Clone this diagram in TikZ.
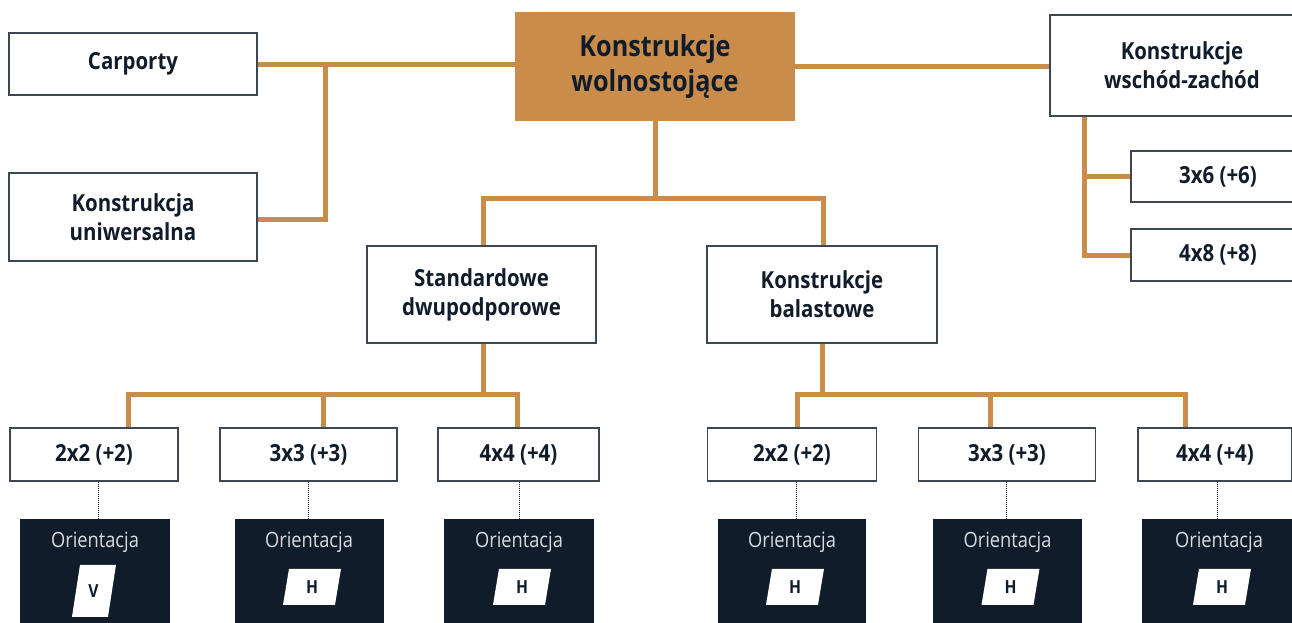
\documentclass[tikz,border=0pt]{standalone}
\usepackage{fontspec}
\setmainfont{Open Sans}[FakeStretch=0.87]
\definecolor{navy}{HTML}{111C2A}
\definecolor{boxline}{HTML}{3C4753}
\definecolor{ochre}{HTML}{C98C4A}
\definecolor{lightgray}{HTML}{D8DCE0}
\begin{document}
\begin{tikzpicture}[x=1pt,y=-1pt,
  box/.style={draw=boxline, line width=1.4pt, fill=white, text=navy,
    font=\bfseries\fontsize{23.5}{29}\selectfont, align=center, inner sep=0pt, anchor=center},
  mainbox/.style={fill=ochre, text=navy, font=\bfseries\fontsize{29}{35}\selectfont,
    align=center, inner sep=0pt, anchor=center},
  conn/.style={draw=ochre, line width=5pt},
  dotline/.style={draw=navy, densely dotted, line width=1pt},
  darkbox/.style={fill=navy, inner sep=0pt, anchor=center},
  orient/.style={text=lightgray, font=\fontsize{21}{24}\selectfont, inner sep=0pt},
  letter/.style={text=navy, font=\bfseries\fontsize{18}{20}\selectfont, inner sep=0pt}
]
\useasboundingbox (0,0) rectangle (1292,622);

% top level
\node[box, minimum width=248pt, minimum height=62pt] (carp) at (133,64) {Carporty};
\node[box, minimum width=248pt, minimum height=88pt] (uni) at (133,217) {Konstrukcja\\uniwersalna};
\node[mainbox, minimum width=280pt, minimum height=109pt] (main) at (655,66.5) {Konstrukcje\\wolnostojące};
\node[box, minimum width=264pt, minimum height=101pt] (wz) at (1182,65.5) {Konstrukcje\\wschód-zachód};
\node[box, minimum width=174pt, minimum height=51pt] (b36) at (1218,176.5) {3x6 (+6)};
\node[box, minimum width=174pt, minimum height=52pt] (b48) at (1218,255) {4x8 (+8)};
\node[box, minimum width=229pt, minimum height=97pt] (std) at (481.5,294.5) {Standardowe\\dwupodporowe};
\node[box, minimum width=230pt, minimum height=97pt] (bal) at (822,294.5) {Konstrukcje\\balastowe};

% bottom boxes
\node[box, minimum width=168pt, minimum height=53pt] (l1) at (94,454.5) {2x2 (+2)};
\node[box, minimum width=177pt, minimum height=53pt] (l2) at (308.5,454.5) {3x3 (+3)};
\node[box, minimum width=161pt, minimum height=53pt] (l3) at (518.5,454.5) {4x4 (+4)};
\node[box, minimum width=169pt, minimum height=53pt] (r1) at (792,454.5) {2x2 (+2)};
\node[box, minimum width=177pt, minimum height=53pt] (r2) at (1007,454.5) {3x3 (+3)};
\node[box, minimum width=154pt, minimum height=53pt] (r3) at (1215,454.5) {4x4 (+4)};

% dark boxes
\node[darkbox, minimum width=150pt, minimum height=104pt] (d1) at (95,571) {};
\node[darkbox, minimum width=149pt, minimum height=104pt] (d2) at (309,571) {};
\node[darkbox, minimum width=150pt, minimum height=104pt] (d3) at (519,571) {};
\node[darkbox, minimum width=148pt, minimum height=104pt] (d4) at (792,571) {};
\node[darkbox, minimum width=149pt, minimum height=104pt] (d5) at (1007.5,571) {};
\node[darkbox, minimum width=154pt, minimum height=104pt] (d6) at (1219,571) {};

\foreach \d in {d1,d2,d3,d4,d5,d6}{
  \node[orient] (\d o) at ([shift={(0,24)}]\d.north) {Orientacja};
}
% V badge
\fill[white] ([shift={(-15,46)}]d1.north) -- ([shift={(21,46)}]d1.north) -- ([shift={(13,98)}]d1.north) -- ([shift={(-23,98)}]d1.north) -- cycle;
\node[letter] (v1) at ([shift={(-1.5,72)}]d1.north) {V};
% H badges
\foreach \d in {d2,d3,d4,d5,d6}{
  \fill[white] ([shift={(-20,50)}]\d.north) -- ([shift={(32,50)}]\d.north) -- ([shift={(26,86)}]\d.north) -- ([shift={(-26,86)}]\d.north) -- cycle;
  \node[letter] (\d h) at ([shift={(3,68)}]\d.north) {H};
}

% connectors top
\coordinate (j1) at (325,66);
\draw[conn] (carp.east) -- (main.west |- carp.east);
\draw[conn] (uni.east |- 0,219) -- (j1 |- 0,219) -- (j1);
\draw[conn] (main.east) -- (wz.west |- main.east);
\coordinate (j2) at (1084,0);
\draw[conn] (j2 |- wz.south) -- (j2 |- b48.west) -- (b48.west);
\draw[conn] (j2 |- b36.west) -- (b36.west);
\coordinate (j3) at (655,198);
\draw[conn] (main.south) -- (j3);
\draw[conn] ([xshift=1.5]std.north) -- ([xshift=1.5]std.north |- j3) -- ([xshift=1]bal.north |- j3) -- ([xshift=1]bal.north);

% connectors lower
\coordinate (h1) at (0,394);
\draw[conn] ([xshift=1.5]std.south) -- ([xshift=1.5]std.south |- h1);
\draw[conn] ([xshift=34]l1.north) -- ([xshift=34]l1.north |- h1) -- ([xshift=-1.5]l3.north |- h1) -- ([xshift=-1.5]l3.north);
\draw[conn] ([xshift=14.5]l2.north) -- ([xshift=14.5]l2.north |- h1);
\draw[conn] (bal.south) -- (bal.south |- h1);
\draw[conn] ([xshift=5]r1.north) -- ([xshift=5]r1.north |- h1) -- ([xshift=-30]r3.north |- h1) -- ([xshift=-30]r3.north);
\draw[conn] ([xshift=-17]r2.north) -- ([xshift=-17]r2.north |- h1);

% dotted
\draw[dotline] ([xshift=4]l1.south) -- ([xshift=4]l1.south |- d1.north);
\draw[dotline] (l2.south) -- (l2.south |- d2.north);
\draw[dotline] ([xshift=1]l3.south) -- ([xshift=1]l3.south |- d3.north);
\draw[dotline] ([xshift=4]r1.south) -- ([xshift=4]r1.south |- d4.north);
\draw[dotline] ([xshift=-1]r2.south) -- ([xshift=-1]r2.south |- d5.north);
\draw[dotline] ([xshift=2]r3.south) -- ([xshift=2]r3.south |- d6.north);
\end{tikzpicture}
\end{document}
